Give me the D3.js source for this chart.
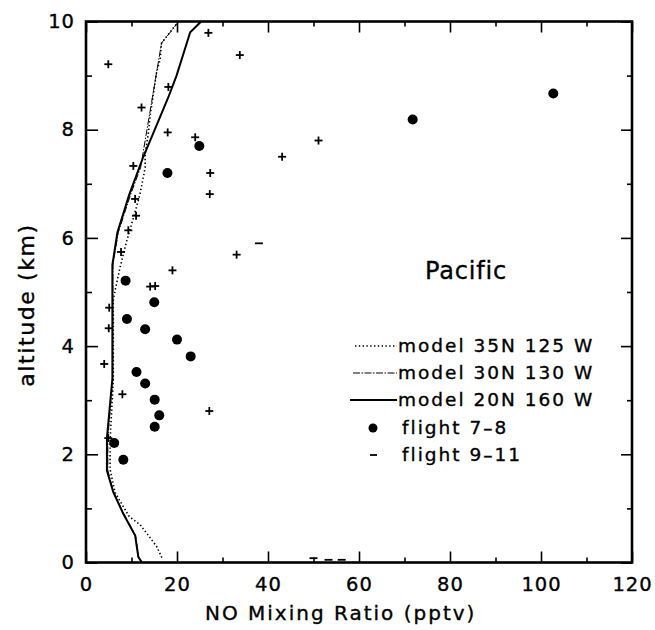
<!DOCTYPE html>
<html>
<head>
<meta charset="utf-8">
<script src="https://cdn.jsdelivr.net/npm/d3@7"></script>
<style>
  html, body { margin: 0; padding: 0; background: #fff; }
  svg { display: block; }
  text { font-family: "DejaVu Sans", "Liberation Sans", sans-serif; fill: #000; stroke: #000; stroke-width: 0.35px; }
</style>
</head>
<body>
<svg id="chart" width="655" height="630"></svg>
<script>
// ---- data -------------------------------------------------------------
// model profiles: altitude (km) and NO mixing ratio (pptv)
const model35Alt = [10.0, 9.6, 9.3, 9.06, 8.26, 7.93, 7.56, 7.3, 6.82, 6.57, 5.93, 5.46, 5.03, 4.85, 3.37, 2.27, 1.72, 1.29, 0.85, 0.70, 0.30, 0.05];
const model35NO  = [20.3, 16.6, 16.3, 15.5, 14.1, 13.7, 13.0, 13.0, 11.9, 11.1, 8.9, 7.5, 6.4, 6.0, 6.0, 5.3, 5.3, 6.4, 9.5, 11.9, 15.5, 16.9];

const model30Alt = [10.0, 9.6, 9.3, 8.6, 7.9, 7.3, 6.8, 6.1, 5.5, 3.4, 2.3, 1.7, 1.3, 0.9, 0.5, 0.1, 0.0];
const model30NO  = [20.4, 16.6, 16.0, 14.6, 13.2, 12.0, 9.8, 7.1, 5.9, 5.9, 4.8, 4.8, 6.1, 8.3, 10.9, 11.6, 12.3];

const model20Alt = [10.0, 9.8, 9.0, 8.6, 7.8, 7.5, 6.8, 6.1, 5.5, 3.4, 2.3, 1.7, 1.3, 0.9, 0.5, 0.1, 0.0];
const model20NO  = [25.3, 22.9, 19.9, 18.1, 14.1, 12.6, 9.5, 6.9, 5.8, 5.8, 4.6, 4.6, 6.0, 8.2, 10.8, 11.5, 12.3];

// flight 7-8 observations
const flight78NO  = [102.7, 71.8, 24.9, 17.9, 8.7, 15.0, 9.0, 13.0, 20.0, 23.0, 11.1, 13.0, 15.1, 16.1, 15.1, 6.2, 8.2];
const flight78Alt = [8.67, 8.19, 7.70, 7.20, 5.21, 4.81, 4.50, 4.31, 4.12, 3.81, 3.52, 3.31, 3.01, 2.72, 2.51, 2.21, 1.90];

// flight 9-11 observations ("+" crosses, "-" short dashes)
const flight911NO   = [26.9, 33.8, 4.9, 18.1, 12.2, 17.95, 24.0, 43.1, 10.4, 27.3, 27.2, 10.8, 51.1, 33.1, 38.0, 11.0, 9.3, 7.7, 19.0, 14.1, 15.2, 5.1, 5.0, 4.0, 8.0, 27.1, 4.9, 50.0, 53.3, 56.2];
const flight911Alt  = [9.79, 9.38, 9.21, 8.79, 8.41, 7.95, 7.86, 7.50, 7.33, 7.20, 6.81, 6.72, 7.80, 5.69, 5.90, 6.41, 6.14, 5.74, 5.40, 5.10, 5.11, 4.71, 4.33, 3.67, 3.11, 2.80, 2.30, 0.08, 0.05, 0.05];
const flight911Mark = ["+", "+", "+", "+", "+", "+", "+", "+", "+", "+", "+", "+", "+", "+", "-", "+", "+", "+", "+", "+", "+", "+", "+", "+", "+", "+", "+", "-", "-", "-"];

// axis ticks
const xMajor = [0, 20, 40, 60, 80, 100, 120];
const xMinor = [10, 30, 50, 70, 90, 110];
const yMajor = [0, 2, 4, 6, 8, 10];
const yMinor = [1, 3, 5, 7, 9];

const legendLabels = ["model 35N 125 W", "model 30N 130 W", "model 20N 160 W", "flight 7\u20138", "flight 9\u201311"];

// ---- layout -----------------------------------------------------------
const svg = d3.select("#chart");
const L = 86, R = 632, T = 21.5, B = 562.5;

const x = d3.scaleLinear().domain([0, 120]).range([L, R]);
const y = d3.scaleLinear().domain([0, 10]).range([B, T]);

const plot = svg.append("g");

// ---- model curves -----------------------------------------------------
const line = d3.line().x(d => x(d[0])).y(d => y(d[1]));
const zipCurve = (v, a) => v.map((d, i) => [d, a[i]]);

const curves = [
  { pts: zipCurve(model35NO, model35Alt), w: 1.6, dash: "1.4,2.4" },
  { pts: zipCurve(model30NO, model30Alt), w: 1.0, dash: "7,1.5,1.5,1.5" },
  { pts: zipCurve(model20NO, model20Alt), w: 2.0, dash: null }
];
curves.forEach(c => {
  plot.append("path")
    .attr("d", line(c.pts))
    .attr("fill", "none")
    .attr("stroke", "#000")
    .attr("stroke-width", c.w)
    .attr("stroke-dasharray", c.dash);
});

// ---- flight 7-8: filled circles ---------------------------------------
plot.selectAll("circle.f78")
  .data(flight78NO.map((v, i) => [v, flight78Alt[i]]))
  .join("circle")
  .attr("class", "f78")
  .attr("cx", d => x(d[0]))
  .attr("cy", d => y(d[1]))
  .attr("r", 5)
  .attr("fill", "#000");

// ---- flight 9-11: crosses / dashes ------------------------------------
const arm = 4;
const f911 = plot.selectAll("g.f911")
  .data(flight911NO.map((v, i) => ({ v, a: flight911Alt[i], m: flight911Mark[i] })))
  .join("g")
  .attr("class", "f911")
  .attr("transform", d => `translate(${x(d.v)},${y(d.a)})`);
f911.append("line")
  .attr("x1", -arm).attr("x2", arm).attr("y1", 0).attr("y2", 0)
  .attr("stroke", "#000").attr("stroke-width", 1.8);
f911.filter(d => d.m === "+").append("line")
  .attr("x1", 0).attr("x2", 0).attr("y1", -arm).attr("y2", arm)
  .attr("stroke", "#000").attr("stroke-width", 1.8);

// ---- axes (ticks point inward) ----------------------------------------
function styleAxis(g) {
  g.select(".domain").remove();
  g.selectAll(".tick line").attr("stroke", "#000").attr("stroke-width", 1.6);
  g.selectAll(".tick text")
    .style("font-size", "19.5px").style("letter-spacing", "1px")
    .attr("fill", "#000");
}
// bottom
svg.append("g").attr("transform", `translate(0,${B})`)
  .call(d3.axisBottom(x).tickValues(xMajor).tickSize(-11).tickPadding(15).tickFormat(d3.format("d")))
  .call(styleAxis);
svg.append("g").attr("transform", `translate(0,${B})`)
  .call(d3.axisBottom(x).tickValues(xMinor).tickSize(-5).tickFormat(""))
  .call(styleAxis);
// top
svg.append("g").attr("transform", `translate(0,${T})`)
  .call(d3.axisTop(x).tickValues(xMajor).tickSize(-11).tickFormat(""))
  .call(styleAxis);
svg.append("g").attr("transform", `translate(0,${T})`)
  .call(d3.axisTop(x).tickValues(xMinor).tickSize(-5).tickFormat(""))
  .call(styleAxis);
// left
svg.append("g").attr("transform", `translate(${L},0)`)
  .call(d3.axisLeft(y).tickValues(yMajor).tickSize(-12).tickPadding(11).tickFormat(d3.format("d")))
  .call(styleAxis);
svg.append("g").attr("transform", `translate(${L},0)`)
  .call(d3.axisLeft(y).tickValues(yMinor).tickSize(-6).tickFormat(""))
  .call(styleAxis);
// right
svg.append("g").attr("transform", `translate(${R},0)`)
  .call(d3.axisRight(y).tickValues(yMajor).tickSize(-11).tickFormat(""))
  .call(styleAxis);
svg.append("g").attr("transform", `translate(${R},0)`)
  .call(d3.axisRight(y).tickValues(yMinor).tickSize(-5).tickFormat(""))
  .call(styleAxis);

// frame
svg.append("rect")
  .attr("x", L).attr("y", T).attr("width", R - L).attr("height", B - T)
  .attr("fill", "none").attr("stroke", "#000").attr("stroke-width", 2.6);

// ---- titles -----------------------------------------------------------
svg.append("text")
  .attr("x", 205).attr("y", 620)
  .style("font-size", "20px").style("letter-spacing", "2px")
  .text("NO Mixing Ratio (pptv)");

svg.append("text")
  .attr("transform", `translate(34,305) rotate(-90)`)
  .attr("text-anchor", "middle")
  .style("font-size", "22px").style("letter-spacing", "1.6px")
  .text("altitude  (km)");

svg.append("text")
  .attr("x", 425).attr("y", 279)
  .style("font-size", "24px").style("letter-spacing", "0.8px")
  .text("Pacific");

// ---- legend -----------------------------------------------------------
const legY = [346, 373, 400, 428, 455];
const lg = svg.append("g");
curves.forEach((c, i) => {
  lg.append("line")
    .attr("x1", [355, 353, 350][i]).attr("x2", 397)
    .attr("y1", legY[i]).attr("y2", legY[i])
    .attr("stroke", "#000").attr("stroke-width", c.w)
    .attr("stroke-dasharray", c.dash);
});
lg.append("circle").attr("cx", 373).attr("cy", legY[3]).attr("r", 4.5).attr("fill", "#000");
lg.append("line").attr("x1", 370).attr("x2", 377).attr("y1", legY[4]).attr("y2", legY[4])
  .attr("stroke", "#000").attr("stroke-width", 1.8);
legendLabels.forEach((t, i) => {
  lg.append("text")
    .attr("x", i < 3 ? 398 : 402).attr("y", legY[i] + 6)
    .style("font-size", "18.5px").style("letter-spacing", "2px")
    .text(t);
});
</script>
</body>
</html>
